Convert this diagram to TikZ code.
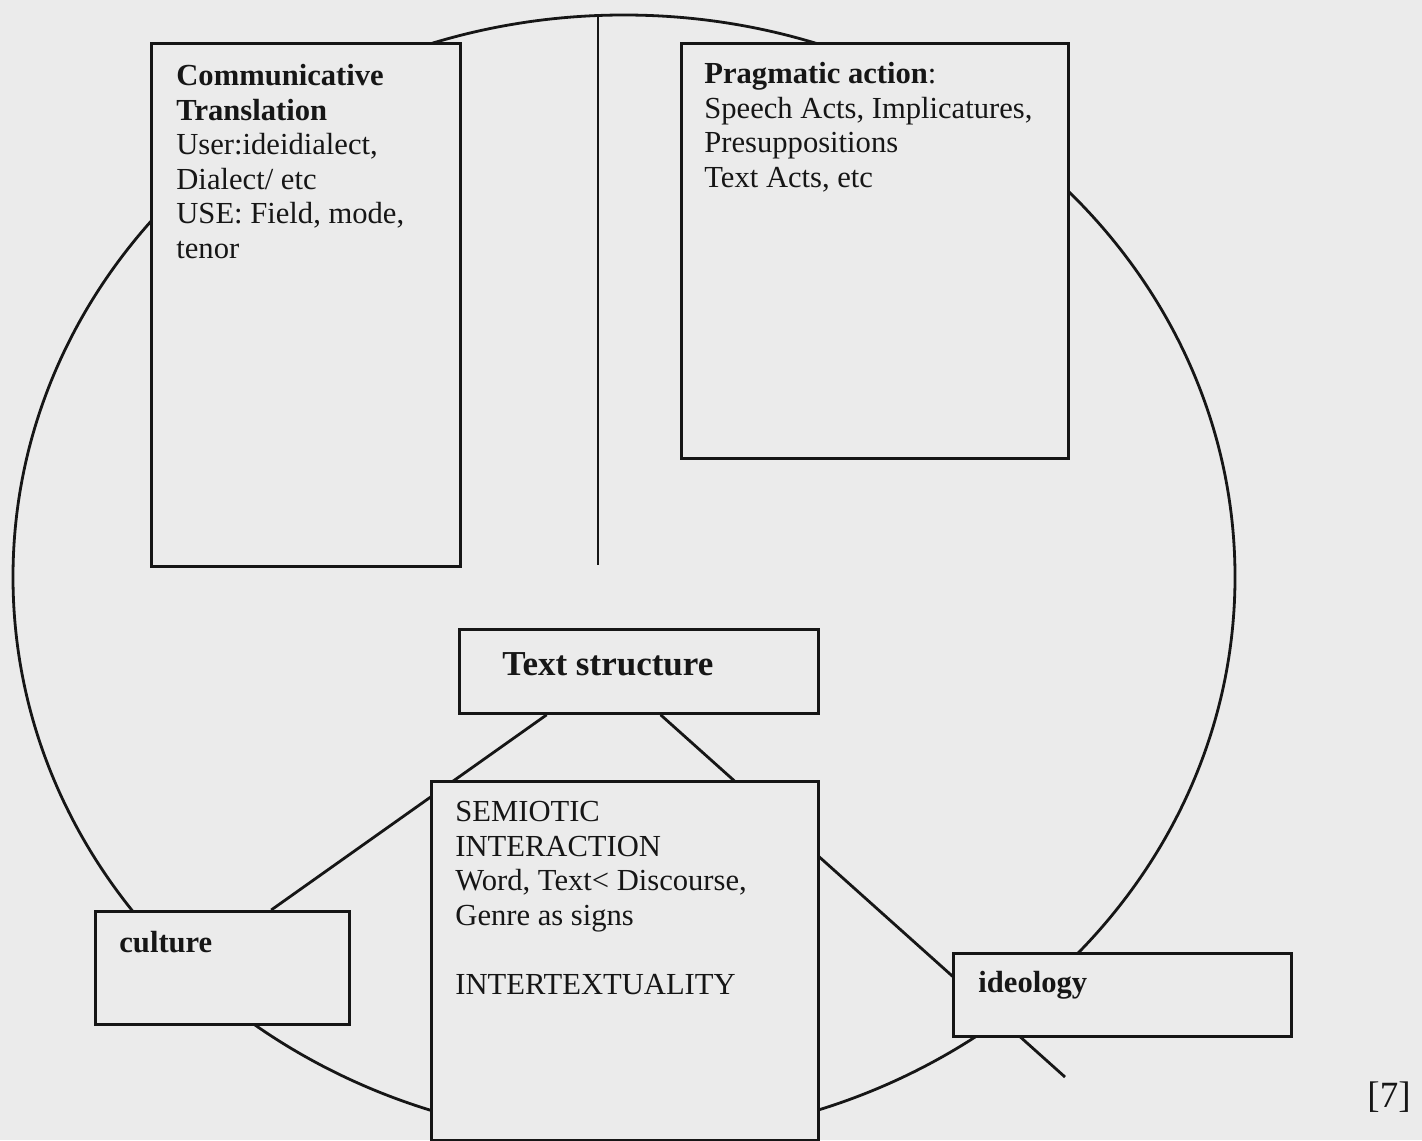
\documentclass[tikz,border=0pt]{standalone}
\usepackage{fontspec}
\setmainfont{Liberation Serif}
\usetikzlibrary{calc}
\definecolor{paper}{HTML}{EBEBEB}
\definecolor{ink}{HTML}{161616}
\pgfdeclarelayer{bg}
\pgfsetlayers{bg,main}
\begin{document}
\begin{tikzpicture}[x=0.5pt,y=-0.5pt,
  line/.style={draw=ink,line width=1.4pt},
  box/.style={draw=ink,fill=paper,line width=1.4pt,inner sep=0pt,anchor=north west},
  txt/.style={anchor=north west,inner sep=0pt,align=left,text=ink,font=\fontsize{15.3pt}{17.25pt}\selectfont},
  lbl/.style={anchor=base west,inner sep=0pt,text=ink,font=\fontsize{15.3pt}{17.25pt}\selectfont\bfseries}]
\useasboundingbox (0,0) rectangle (1422,1140);
\begin{pgfonlayer}{bg}
\fill[paper] (0,0) rectangle (1422,1140);
\end{pgfonlayer}
% boxes
\node[box, minimum width=154.5pt, minimum height=261.5pt] (comm) at (150,42) {};
\node[box, minimum width=193.5pt, minimum height=207.5pt] (prag) at (680,42) {};
\node[box, minimum width=179.5pt, minimum height=42pt] (ts) at (458,628) {};
\node[box, minimum width=193.5pt, minimum height=179.5pt] (sem) at (430,780) {};
\node[box, minimum width=127pt, minimum height=56.5pt] (cult) at (94,910) {};
\node[box, minimum width=169pt, minimum height=41.5pt] (ideo) at (952,952) {};
% texts
\node[txt] (commtxt) at (176,64) {\textbf{Communicative}\\\textbf{Translation}\\User:ideidialect,\\Dialect/ etc\\USE: Field, mode,\\tenor};
\node[txt] (pragtxt) at (704,62) {\textbf{Pragmatic action}:\\Speech Acts, Implicatures,\\Presuppositions\\Text Acts, etc};
\node[txt] (semtxt) at (455,801) {SEMIOTIC\\INTERACTION\\Word, Text< Discourse,\\Genre as signs\\[17.25pt]INTERTEXTUALITY};
\node[lbl] (culttxt) at (119,952) {culture};
\node[lbl] (ideotxt) at (978,992) {ideology};
\node[lbl, font=\fontsize{17.5pt}{20pt}\selectfont\bfseries] (tstxt) at (502,675) {Text structure};
\node[anchor=base, inner sep=0pt, text=ink, font=\fontsize{18.5pt}{20pt}\selectfont] (ref) at (1389,1107) {[7]};
% connectors behind the boxes
\coordinate (vtop) at (598,15);
\coordinate (vbot) at (598,565);
\coordinate (tail) at (1065,1077);
\begin{pgfonlayer}{bg}
\draw[line] (624,577) ellipse [x radius=305.5pt, y radius=281pt];
\draw[line] (vtop) -- (vbot);
\draw[line] ($(ts.south west)!0.245!(ts.south east)$) -- ($(cult.north west)!0.69!(cult.north east)$);
\draw[line] ($(ts.south west)!0.56!(ts.south east)$) -- (tail);
\end{pgfonlayer}
\end{tikzpicture}
\end{document}
